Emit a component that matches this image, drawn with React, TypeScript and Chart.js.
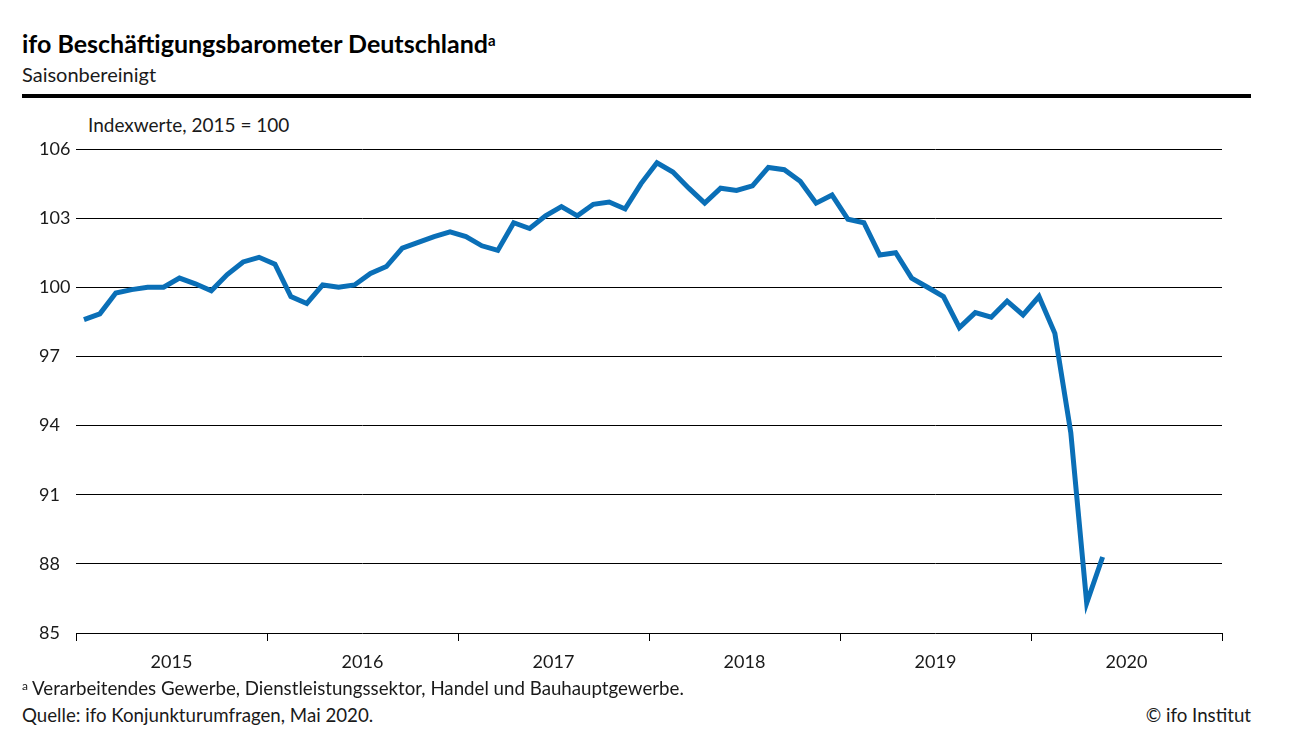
import React, { useEffect, useRef } from "react";
import { Chart, registerables } from "chart.js";

Chart.register(...registerables);

const years = ["2015", "2016", "2017", "2018", "2019", "2020"];
const monthsPerYear = 12;

const values2015 = [98.6, 98.85, 99.75, 99.9, 100.0, 100.0, 100.4, 100.15, 99.85, 100.55, 101.1, 101.3];
const values2016 = [101.0, 99.6, 99.3, 100.1, 100.0, 100.1, 100.6, 100.9, 101.7, 101.95, 102.2, 102.4];
const values2017 = [102.2, 101.8, 101.6, 102.8, 102.55, 103.1, 103.5, 103.1, 103.6, 103.7, 103.4, 104.5];
const values2018 = [105.4, 105.0, 104.3, 103.65, 104.3, 104.2, 104.4, 105.2, 105.1, 104.6, 103.65, 104.0];
const values2019 = [102.95, 102.8, 101.4, 101.5, 100.4, 100.0, 99.6, 98.25, 98.9, 98.7, 99.4, 98.8];
const values2020 = [99.6, 98.0, 93.7, 86.3, 88.3];

const yMin = 85;
const yMax = 106;
const yStep = 3;

const FONT = "Lato, 'Noto Sans', sans-serif";

const allValues = [...values2015, ...values2016, ...values2017, ...values2018, ...values2019, ...values2020];

export default function App() {
  const ref = useRef<HTMLCanvasElement>(null);

  useEffect(() => {
    if (!ref.current) return;
    const points = allValues.map((v, i) => ({ x: i + 0.5, y: v }));
    const yearAxisPlugin = {
      id: "yearAxis",
      afterDraw(chart: any) {
        const ctx = chart.ctx;
        const area = chart.chartArea;
        const xs = chart.scales.x;
        ctx.save();
        ctx.strokeStyle = "#000";
        ctx.lineWidth = 1;
        for (let k = 0; k <= years.length; k++) {
          const px = Math.round(xs.getPixelForValue(k * monthsPerYear)) + 0.5;
          ctx.beginPath();
          ctx.moveTo(px, area.bottom);
          ctx.lineTo(px, area.bottom + 8);
          ctx.stroke();
        }
        ctx.fillStyle = "#1a1a1a";
        ctx.font = `18px ${FONT}`;
        ctx.textAlign = "center";
        ctx.textBaseline = "middle";
        years.forEach((yr, k) => {
          const px = xs.getPixelForValue(k * monthsPerYear + monthsPerYear / 2);
          ctx.fillText(yr, px, area.bottom + 29);
        });
        ctx.restore();
      },
    };
    const chart = new Chart(ref.current, {
      type: "line",
      data: {
        datasets: [
          {
            data: points,
            borderColor: "#0a6fb7",
            borderWidth: 5,
            pointRadius: 0,
            tension: 0,
            fill: false,
          },
        ],
      },
      options: {
        animation: false,
        responsive: false,
        maintainAspectRatio: false,
        layout: { padding: { left: 39, right: 93, top: 49, bottom: 47 } },
        plugins: { legend: { display: false }, tooltip: { enabled: false } },
        scales: {
          x: {
            type: "linear",
            min: 0,
            max: years.length * monthsPerYear,
            display: false,
          },
          y: {
            min: yMin,
            max: yMax,
            afterFit: (s: any) => {
              s.width = 37;
            },
            border: { display: false },
            grid: { color: "#000", lineWidth: 1, drawTicks: false },
            ticks: {
              stepSize: yStep,
              crossAlign: "far",
              padding: 0,
              color: "#1a1a1a",
              font: { family: FONT, size: 18 },
            },
          },
        },
      },
      plugins: [yearAxisPlugin],
    });
    return () => chart.destroy();
  }, []);

  const text: React.CSSProperties = { position: "absolute", fontFamily: FONT, color: "#1a1a1a", whiteSpace: "nowrap", margin: 0, lineHeight: 1.2 };

  return (
    <div style={{ position: "absolute", left: 0, top: 0, width: 1315, height: 746, background: "#fff", overflow: "hidden" }}>
      <div style={{ ...text, left: 22, top: 28, fontSize: 25, fontWeight: 700, color: "#000" }}>
        ifo Beschäftigungsbarometer Deutschland<sup style={{ fontSize: 15, verticalAlign: "7px" }}>a</sup>
      </div>
      <div style={{ ...text, left: 22, top: 62, fontSize: 20 }}>Saisonbereinigt</div>
      <div style={{ position: "absolute", left: 22, top: 94, width: 1229, height: 4, background: "#000" }} />
      <div style={{ ...text, left: 88, top: 114, fontSize: 19 }}>Indexwerte, 2015 = 100</div>
      <canvas ref={ref} width={1315} height={580} style={{ position: "absolute", left: 0, top: 100, width: 1315, height: 580 }} />
      <div style={{ ...text, left: 22, top: 677, fontSize: 18.7 }}>
        <sup style={{ fontSize: 12, verticalAlign: "5px" }}>a</sup> Verarbeitendes Gewerbe, Dienstleistungssektor, Handel und Bauhauptgewerbe.
      </div>
      <div style={{ ...text, left: 22, top: 704, fontSize: 18.7 }}>Quelle: ifo Konjunkturumfragen, Mai 2020.</div>
      <div style={{ ...text, right: 64, top: 704, fontSize: 18.7 }}>© ifo Institut</div>
    </div>
  );
}
